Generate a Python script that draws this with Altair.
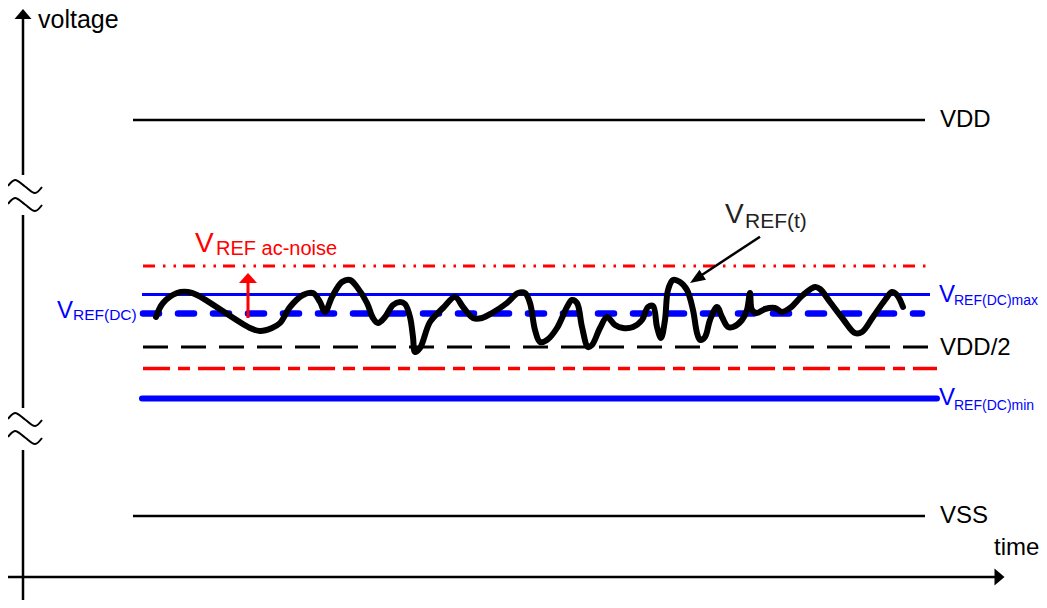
import altair as alt
import pandas as pd

# ---------------- data (time units along x, voltage units along y) ----------------
# V_REF(t) waveform
wave_t = [156, 163, 177, 188, 197, 250, 260, 272, 280, 290, 303, 313, 320, 325, 332, 342, 350, 357,
          367, 373, 378, 385, 393, 400, 405, 410, 413, 415, 420, 430, 443, 455, 463, 473, 482, 492,
          507, 518, 525, 530, 535, 540, 547, 557, 567, 572, 577, 582, 588, 592, 600, 607, 615, 623,
          633, 642, 648, 653, 657, 661, 665, 668, 673, 680, 687, 693, 697, 700, 705, 710, 717, 722,
          728, 733, 742, 747, 750, 752, 757, 765, 775, 782, 790, 803, 815, 820, 830, 843, 855, 862,
          873, 885, 892, 897, 903]
wave_v = [283, 297, 307, 308, 305, 272, 269, 272, 277, 293, 305, 307, 298, 288, 303, 318, 320, 313,
          297, 282, 277, 283, 295, 298, 296, 283, 263, 248, 252, 278, 292, 303, 293, 282, 282, 287,
          297, 307, 307, 297, 270, 258, 260, 272, 293, 300, 297, 273, 253, 255, 272, 283, 275, 272,
          273, 280, 293, 294, 273, 262, 280, 310, 320, 318, 310, 290, 267, 260, 263, 280, 293, 283,
          273, 273, 280, 290, 307, 290, 287, 291, 292, 288, 292, 305, 313, 311, 298, 281, 267, 268,
          283, 300, 308, 305, 293]

# horizontal levels
level_names = ["VDD", "VSS", "VDD/2", "ac_low", "ac_high", "dc_max", "dc", "dc_min"]
level_v = [480, 84, 253, 231.5, 334, 305.5, 286.5, 201.5]
level_t0 = [133, 133, 143, 143, 143, 142, 143, 142]
level_t1 = [925, 925, 932, 937, 932, 930, 922, 937]

# coordinate axes
vaxis_t = 23
vaxis_v0 = [582, 385, 150]
vaxis_v1 = [425, 192, 0]
taxis_v = 23
taxis_t0 = 8
taxis_t1 = 996

# axis-break tildes
tilde_t = [8, 15, 25, 35, 42]
tilde_shape = [414, 420, 413.5, 407, 413]
tilde_offsets = [0, -18, -233, -251]

# text labels
lab_text = ["voltage", "time", "VDD", "VSS", "VDD/2"]
lab_t = [38, 994, 940, 940, 940]
lab_v = [572, 45, 473, 77, 245]
lab_size = [25, 24, 24, 24, 24]

# ---------------- scales ----------------
xs = alt.Scale(domain=[8, 1039], nice=False, zero=False)
ys = alt.Scale(domain=[0, 592], nice=False, zero=False)


def X(f="t"):
    return alt.X(f"{f}:Q", scale=xs, axis=None)


def Y(f="v"):
    return alt.Y(f"{f}:Q", scale=ys, axis=None)


FONT = "Liberation Sans"
BLUE = "#0000ff"
RED = "#ff0000"


def level(name, **mk):
    i = level_names.index(name)
    df = pd.DataFrame({"t": [level_t0[i]], "t2": [level_t1[i]], "v": [level_v[i]]})
    return alt.Chart(df).mark_rule(**mk).encode(x=X("t"), x2="t2:Q", y=Y("v"))


def text(s, t, v, size, color="black"):
    df = pd.DataFrame({"t": [t], "v": [v], "s": [s]})
    return alt.Chart(df).mark_text(align="left", baseline="alphabetic", font=FONT,
                                   fontSize=size, color=color).encode(
        x=X("t"), y=Y("v"), text="s:N")


def head(t, v, shape, size, color, angle=0):
    df = pd.DataFrame({"t": [t], "v": [v]})
    return alt.Chart(df).mark_point(shape=shape, size=size, filled=True, color=color,
                                    opacity=1, strokeWidth=0, angle=angle).encode(
        x=X("t"), y=Y("v"))


layers = []

# levels
layers.append(level("VDD", color="black", strokeWidth=2.5))
layers.append(level("VSS", color="black", strokeWidth=2.5))
layers.append(level("VDD/2", color="black", strokeWidth=3, strokeDash=[25, 13]))
layers.append(level("ac_low", color=RED, strokeWidth=3.5, strokeDash=[27, 8, 12, 8]))
layers.append(level("ac_high", color=RED, strokeWidth=3, strokeDash=[12, 8, 2.5, 8, 2.5, 7]))
layers.append(level("dc_max", color=BLUE, strokeWidth=3))
layers.append(level("dc", color=BLUE, strokeWidth=6.5, strokeDash=[16, 19], strokeCap="round"))
layers.append(level("dc_min", color=BLUE, strokeWidth=6, strokeCap="round"))

# vertical axis (with breaks)
vdf = pd.DataFrame({"t": [vaxis_t] * len(vaxis_v0), "v": vaxis_v0, "v2": vaxis_v1})
layers.append(alt.Chart(vdf).mark_rule(color="black", strokeWidth=2.5).encode(
    x=X("t"), y=Y("v"), y2="v2:Q"))
layers.append(head(vaxis_t, 586, "M0,-1L-1.7,1L1.7,1Z", 100, "black"))

# time axis
tdf = pd.DataFrame({"t": [taxis_t0], "t2": [taxis_t1], "v": [taxis_v]})
layers.append(alt.Chart(tdf).mark_rule(color="black", strokeWidth=2.5).encode(
    x=X("t"), x2="t2:Q", y=Y("v")))
layers.append(head(999.5, taxis_v, "M1,0L-1,-1.7L-1,1.7Z", 100, "black"))

# tildes
rows = []
for k, off in enumerate(tilde_offsets):
    for t, v in zip(tilde_t, tilde_shape):
        rows.append({"g": k, "t": t, "v": v + off})
tdf2 = pd.DataFrame(rows)
layers.append(alt.Chart(tdf2).mark_line(color="black", strokeWidth=2,
                                        interpolate="catmull-rom").encode(
    x=X("t"), y=Y("v"), detail="g:N"))

# waveform
wdf = pd.DataFrame({"t": wave_t, "v": wave_v})
layers.append(alt.Chart(wdf).mark_line(color="black", strokeWidth=6, interpolate="catmull-rom",
                                       strokeCap="round", strokeJoin="round").encode(
    x=X("t"), y=Y("v")))

# red ac-noise arrow
rdf = pd.DataFrame({"t": [248], "v": [282], "v2": [318]})
layers.append(alt.Chart(rdf).mark_rule(color=RED, strokeWidth=3).encode(
    x=X("t"), y=Y("v"), y2="v2:Q"))
layers.append(head(248, 322, "M0,-0.55L-1,0.55L1,0.55Z", 324, RED))

# black V_REF(t) pointer
bdf = pd.DataFrame({"t": [760], "t2": [695], "v": [363.3], "v2": [320.5]})
layers.append(alt.Chart(bdf).mark_rule(color="black", strokeWidth=2.5).encode(
    x=X("t"), x2="t2:Q", y=Y("v"), y2="v2:Q"))
layers.append(head(696.7, 321.4, "M0,-1L-0.75,0.9L0.75,0.9Z", 256, "black", angle=237))

# labels
for s, t, v, sz in zip(lab_text, lab_t, lab_v, lab_size):
    layers.append(text(s, t, v, sz))

layers.append(text("V", 939, 298, 24, BLUE))
layers.append(text("REF(DC)max", 954, 295, 14, BLUE))
layers.append(text("V", 939, 195, 24, BLUE))
layers.append(text("REF(DC)min", 954, 190, 14, BLUE))
layers.append(text("V", 57, 282, 24, BLUE))
layers.append(text("REF(DC)", 73, 280, 15.5, BLUE))
layers.append(text("V", 195, 348, 28, RED))
layers.append(text("REF ac-noise", 216, 345, 20, RED))
layers.append(text("V", 725, 377, 28, "#222222"))
layers.append(text("REF(t)", 745, 372, 21, "#222222"))

chart = alt.layer(*layers).properties(
    width=1031, height=592,
    autosize=alt.AutoSizeParams(type="none"),
    padding=0,
).configure_view(strokeWidth=0)

chart.save("out.html", embed_options={"renderer": "svg", "actions": False})
